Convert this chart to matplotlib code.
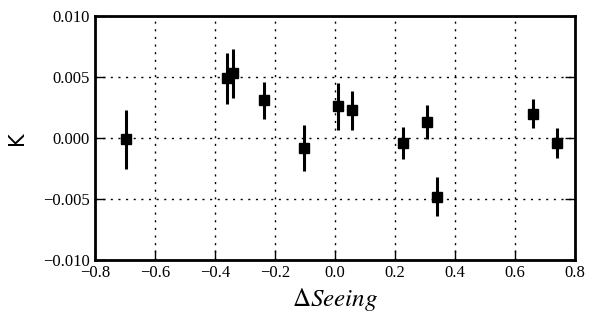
import numpy as np
import matplotlib
matplotlib.use("Agg")
import matplotlib.pyplot as plt

# data
dseeing = [-0.697, -0.361, -0.339, -0.236, -0.104, 0.012, 0.058, 0.228, 0.306, 0.340, 0.661, 0.741]
k_vals = [-0.0001, 0.0049, 0.0053, 0.0031, -0.0008, 0.0026, 0.0023, -0.0004, 0.0013, -0.0048, 0.0020, -0.0004]
k_err = [0.0024, 0.0021, 0.0020, 0.0015, 0.0019, 0.0019, 0.0016, 0.0013, 0.0014, 0.0016, 0.0012, 0.0012]

xticks = [-0.8, -0.6, -0.4, -0.2, 0.0, 0.2, 0.4, 0.6, 0.8]
yticks = [-0.010, -0.005, 0.000, 0.005, 0.010]

plt.rcParams['font.family'] = ['Liberation Serif', 'DejaVu Serif']
plt.rcParams['mathtext.fontset'] = 'stix'

fig = plt.figure(figsize=(6.0, 3.23), dpi=100)
ax = fig.add_axes([0.158, 0.195, 0.8, 0.755])

ax.errorbar(dseeing, k_vals, yerr=k_err, fmt='s', color='black', ms=7,
            elinewidth=2.2, capsize=0, zorder=3)

ax.set_xlim(-0.8, 0.8)
ax.set_ylim(-0.010, 0.010)
ax.set_xticks(xticks)
ax.set_yticks(yticks)
ax.set_xticklabels([("%.1f" % v).replace('-', '\u2212') for v in xticks])
ax.set_yticklabels([("%.3f" % v).replace('-', '\u2212') for v in yticks])
ax.tick_params(direction='in', length=7, width=1, labelsize=12,
               left=True, right=True, top=False, bottom=True)
ax.grid(True, color='black', linestyle=(0, (1.5, 4)), linewidth=1)

for s in ax.spines.values():
    s.set_linewidth(2)

ax.set_xlabel(r'$\Delta Seeing$', fontsize=18, labelpad=4)
ax.set_ylabel('K', fontsize=15, family='DejaVu Sans', labelpad=12)

fig.savefig('out.png', dpi=100)
